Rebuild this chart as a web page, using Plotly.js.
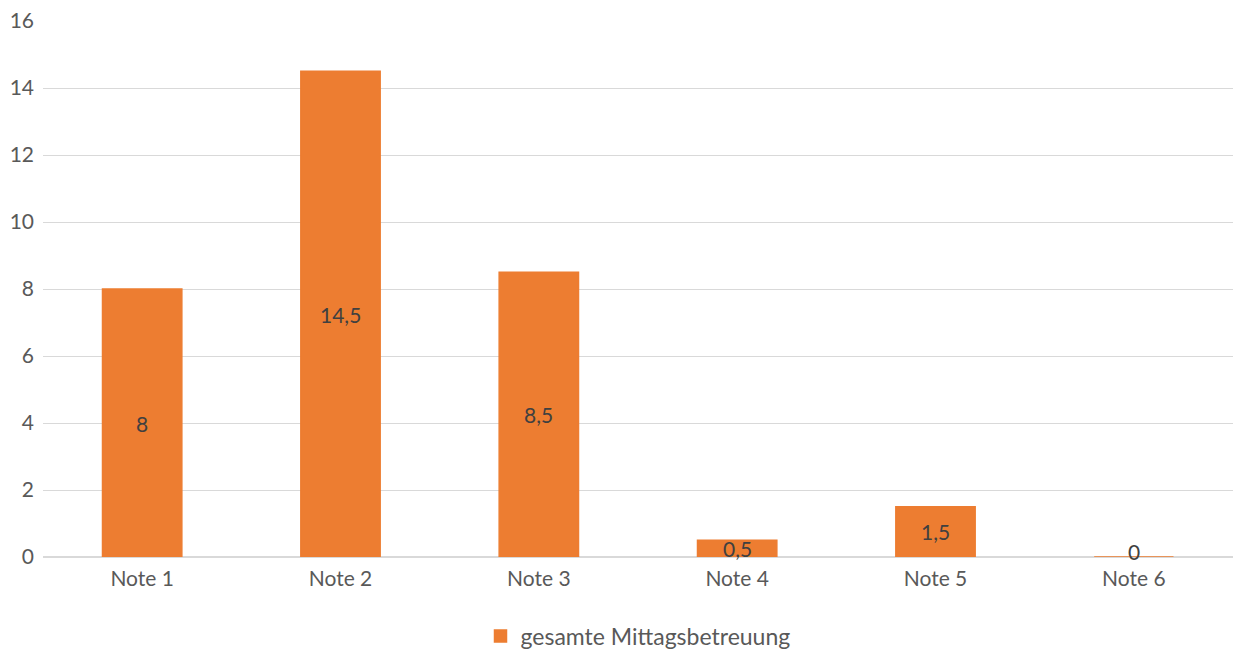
<!DOCTYPE html>
<html>
<head>
<meta charset="utf-8">
<script src="https://cdn.plot.ly/plotly-3.0.1.min.js"></script>
<style>html,body{margin:0;padding:0;background:#fff;}#chart{width:1237px;height:651px;}</style>
</head>
<body>
<div id="chart"></div>
<script>
const categories = ["Note 1", "Note 2", "Note 3", "Note 4", "Note 5", "Note 6"];
const values = [8, 14.5, 8.5, 0.5, 1.5, 0];
const valueLabels = ["8", "14,5", "8,5", "0,5", "1,5", "0"];
const seriesName = "gesamte Mittagsbetreuung";
const yTicks = [0, 2, 4, 6, 8, 10, 12, 14, 16];

const orange = "#ED7D31";
const textColor = "#595959";
const fontFam = "Lato, 'Open Sans', sans-serif";
const fs = 21;

const trace = {
  type: "bar",
  x: categories,
  y: values,
  name: seriesName,
  width: 0.4,
  marker: { color: orange, line: { color: orange, width: 1.5 } },
  hoverinfo: "skip"
};

const annotations = categories.map((c, i) => ({
  x: c, y: values[i] / 2, xref: "x", yref: "y",
  text: valueLabels[i], showarrow: false,
  font: { family: fontFam, size: fs, color: "#404040" },
  xanchor: "center", yanchor: "middle",
  borderpad: 0,
  yshift: values[i] === 0 ? 6 : 0
}));

const layout = {
  width: 1237, height: 651,
  margin: { l: 43, r: 4, t: 21, b: 94, autoexpand: false },
  paper_bgcolor: "#fff", plot_bgcolor: "#fff",
  font: { family: fontFam, size: fs, color: textColor },
  showlegend: true,
  legend: {
    orientation: "h", x: 0.5, xanchor: "center",
    yref: "container", y: 15 / 651, yanchor: "middle",
    font: { family: fontFam, size: 23, color: textColor },
    itemwidth: 30
  },
  xaxis: {
    type: "category", showgrid: false, showline: false, zeroline: false,
    ticks: "", tickfont: { size: fs, color: textColor }, range: [-0.5, 5.5],
    ticklabelstandoff: 7, automargin: false
  },
  yaxis: {
    range: [0, 16], tickvals: yTicks, ticktext: yTicks.map(String),
    showgrid: true, gridcolor: "#d9d9d9", gridwidth: 1,
    zeroline: true, zerolinecolor: "#d9d9d9", zerolinewidth: 1.5,
    zerolinelayer: "below traces",
    showline: false, ticks: "", ticklabelstandoff: 8,
    tickfont: { size: fs, color: textColor }, automargin: false
  },
  annotations: annotations,
  bargap: 0.6
};

Plotly.newPlot("chart", [trace], layout, { displayModeBar: false, staticPlot: true });
</script>
</body>
</html>
